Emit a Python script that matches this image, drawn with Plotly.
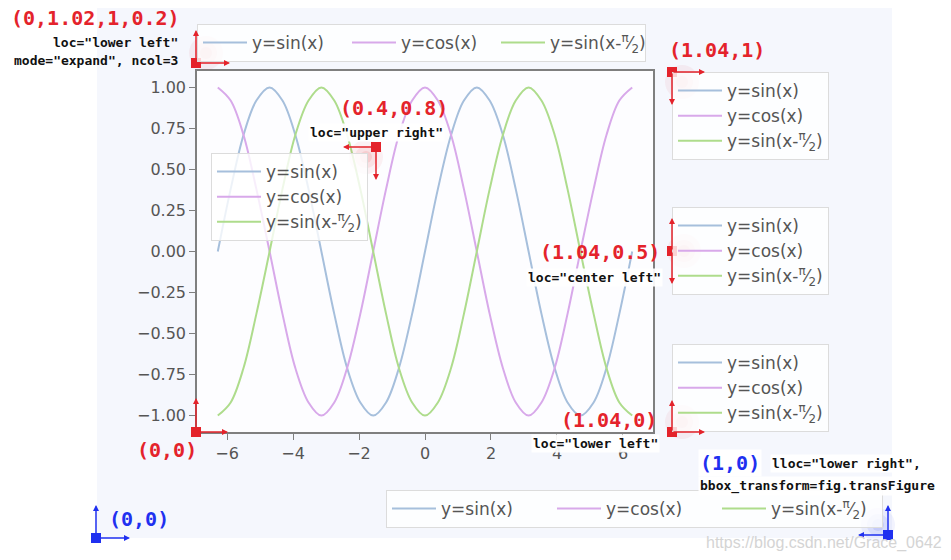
import plotly.graph_objects as go

# ---------------- data ----------------
x_vals = [-6.28, -5.89, -5.50, -5.11, -4.71, -4.32, -3.93, -3.53, -3.14, -2.75, -2.36,
          -1.96, -1.57, -1.18, -0.79, -0.39, 0.00, 0.39, 0.79, 1.18, 1.57, 1.96,
          2.36, 2.75, 3.14, 3.53, 3.93, 4.32, 4.71, 5.11, 5.50, 5.89, 6.28]
sin_vals = [0, 0.38, 0.71, 0.92, 1, 0.92, 0.71, 0.38, 0, -0.38, -0.71, -0.92, -1, -0.92,
            -0.71, -0.38, 0, 0.38, 0.71, 0.92, 1, 0.92, 0.71, 0.38, 0, -0.38, -0.71,
            -0.92, -1, -0.92, -0.71, -0.38, 0]
cos_vals = [1, 0.92, 0.71, 0.38, 0, -0.38, -0.71, -0.92, -1, -0.92, -0.71, -0.38, 0, 0.38,
            0.71, 0.92, 1, 0.92, 0.71, 0.38, 0, -0.38, -0.71, -0.92, -1, -0.92, -0.71,
            -0.38, 0, 0.38, 0.71, 0.92, 1]
shift_vals = [-1, -0.92, -0.71, -0.38, 0, 0.38, 0.71, 0.92, 1, 0.92, 0.71, 0.38, 0, -0.38,
              -0.71, -0.92, -1, -0.92, -0.71, -0.38, 0, 0.38, 0.71, 0.92, 1, 0.92, 0.71,
              0.38, 0, -0.38, -0.71, -0.92, -1]
series_names = ["y=sin(x)", "y=cos(x)", "y=sin(x-<sup>π</sup>⁄<sub>2</sub>)"]
series_colors = ["#a6bfdc", "#d8a9ea", "#aedc8c"]
y_tickvals = [-1.0, -0.75, -0.5, -0.25, 0.0, 0.25, 0.5, 0.75, 1.0]
x_tickvals = [-6, -4, -2, 0, 2, 4, 6]

# ---------------- geometry helpers (reference pixel -> paper) ----------------
PAGE_OFF = 8                     # default body margin of the html page
W, H = 951 - PAGE_OFF, 560 - PAGE_OFF
L, R, T, B = 197, 653, 71, 432   # plot area in page pixels


def fx(px):
    return (px - L) / (R - L)


def fy(py):
    return (B - py) / (B - T)


RED = "#e4232b"
BLUE = "#1f30f0"
MONO = "DejaVu Sans Mono"
SANS = "DejaVu Sans"

fig = go.Figure()
series = [sin_vals, cos_vals, shift_vals]
for name, vals, col in zip(series_names, series, series_colors):
    fig.add_trace(go.Scatter(x=x_vals, y=vals, mode="lines", name=name,
                             line=dict(color=col, width=2, shape="spline"),
                             legend="legend"))
# copies of the legend entries for the other legends
for lg in ["legend2", "legend3", "legend4", "legend5", "legend6"]:
    for name, col in zip(series_names, series_colors):
        fig.add_trace(go.Scatter(x=[None], y=[None], mode="lines", name=name,
                                 line=dict(color=col, width=2), legend=lg,
                                 hoverinfo="skip"))

leg_common = dict(bgcolor="rgba(255,255,255,0.8)", bordercolor="#dcdcdc", borderwidth=1,
                  font=dict(family=SANS, size=17, color="#555555"), itemwidth=44)

shapes = []
# figure background and axes background
shapes.append(dict(type="rect", xref="paper", yref="paper", x0=fx(97), x1=fx(892),
                   y0=fy(538), y1=fy(8), fillcolor="#f5f7fd", line=dict(width=0),
                   layer="below"))
shapes.append(dict(type="rect", xref="paper", yref="paper", x0=0, x1=1, y0=0, y1=1,
                   fillcolor="#fdfdff", line=dict(width=0), layer="below"))

annotations = []


def marker(px, py, color, arrows, glow):
    if glow is not None:
        gx, gy = glow
        for r, op in [(17, 0.06), (11, 0.08), (6, 0.10)]:
            shapes.append(dict(type="circle", xref="paper", yref="paper",
                               xsizemode="pixel", ysizemode="pixel",
                               xanchor=fx(px), yanchor=fy(py),
                               x0=gx - r, x1=gx + r, y0=-gy - r, y1=-gy + r,
                               fillcolor=color, opacity=op, line=dict(width=0)))
    for tx, ty in arrows:
        annotations.append(dict(x=fx(tx), y=fy(ty), xref="paper", yref="paper",
                                ax=px - tx, ay=py - ty, text="", showarrow=True,
                                arrowcolor=color, arrowwidth=1.5, arrowhead=2,
                                arrowsize=0.8, standoff=0, startstandoff=0))
    shapes.append(dict(type="rect", xref="paper", yref="paper",
                       xsizemode="pixel", ysizemode="pixel",
                       xanchor=fx(px), yanchor=fy(py), x0=-5, x1=5, y0=-5, y1=5,
                       fillcolor=color, line=dict(width=0)))


marker(196, 63, RED, [(196, 30), (230, 63)], (10, -10))
marker(376, 147, RED, [(343, 147), (376, 180)], (-10, 10))
marker(672, 72, RED, [(705, 72), (672, 105)], (10, 10))
marker(672, 251, RED, [(672, 218), (672, 284)], (12, 0))
marker(672, 432, RED, [(672, 400), (705, 432)], (10, -10))
marker(196, 432, RED, [(196, 398), (228, 432)], None)
marker(96, 538, BLUE, [(96, 505), (130, 538)], None)
marker(888, 535, BLUE, [(888, 505), (858, 535)], (-10, -10))


def label(text, px, py, anchor, color, size, bg=None):
    d = dict(text=text, x=fx(px), y=fy(py), xref="paper", yref="paper",
             xanchor=anchor, yanchor="middle", showarrow=False,
             font=dict(family=MONO, size=size, color=color, weight="bold"),
             borderpad=1)
    if bg:
        d["bgcolor"] = bg
    annotations.append(d)


WHITE = "rgba(255,255,255,0.92)"
label("(0,1.02,1,0.2)", 182, 18, "right", RED, 20)
label('loc="lower left"', 180, 42, "right", "#111111", 13)
label('mode="expand", ncol=3', 180, 60, "right", "#111111", 13)
label("(0.4,0.8)", 338, 108, "left", RED, 20)
label('loc="upper right"', 308, 132, "left", "#111111", 13, WHITE)
label("(1.04,1)", 667, 50, "left", RED, 20)
label("(1.04,0.5)", 662, 252, "right", RED, 20)
label('loc="center left"', 663, 277, "right", "#111111", 13, WHITE)
label("(1.04,0)", 659, 420, "right", RED, 20)
label('loc="lower left"', 660, 443, "right", "#111111", 13, WHITE)
label("(0,0)", 199, 450, "right", RED, 20)
label("(0,0)", 107, 519, "left", BLUE, 20)
label("(1,0)", 698, 463, "left", BLUE, 20, WHITE)
label('lloc="lower right",', 770, 463, "left", "#111111", 13, WHITE)
label("bbox_transform=fig.transFigure", 698, 486, "left", "#111111", 13, WHITE)
annotations.append(dict(text="https://blog.csdn.net/Grace_0642", x=fx(944), y=fy(543),
                        xref="paper", yref="paper", xanchor="right", yanchor="middle",
                        showarrow=False,
                        font=dict(family="Liberation Sans", size=16, color="#d4d4d4")))

axis_common = dict(showgrid=False, zeroline=False, showline=True, mirror=True,
                   linecolor="#7f7f7f", linewidth=1.5, ticks="outside", ticklen=6,
                   tickwidth=1.2, tickcolor="#7f7f7f",
                   tickfont=dict(family=SANS, size=16, color="#555555"))

fig.update_layout(
    width=W, height=H,
    margin=dict(l=L - PAGE_OFF, r=W - (R - PAGE_OFF), t=T - PAGE_OFF,
                b=H - (B - PAGE_OFF), autoexpand=False),
    paper_bgcolor="white", plot_bgcolor="rgba(0,0,0,0)",
    xaxis=dict(range=[-6.91, 6.91], tickvals=x_tickvals, **axis_common),
    yaxis=dict(range=[-1.1, 1.1], tickvals=y_tickvals, tickformat=".2f", **axis_common),
    showlegend=True,
    legend=dict(orientation="h", x=0, xanchor="left", y=fy(62), yanchor="bottom",
                entrywidth=90, **leg_common),
    legend2=dict(x=fx(368), xanchor="right", y=fy(153), yanchor="top", **leg_common),
    legend3=dict(x=fx(672), xanchor="left", y=fy(72), yanchor="top", **leg_common),
    legend4=dict(x=fx(672), xanchor="left", y=fy(251), yanchor="middle", **leg_common),
    legend5=dict(x=fx(672), xanchor="left", y=fy(432), yanchor="bottom", **leg_common),
    legend6=dict(orientation="h", x=fx(883), xanchor="right",
                 y=fy(528), yanchor="bottom", entrywidth=106, **leg_common),
    shapes=shapes,
    annotations=annotations,
)

fig.write_html("out.html")
